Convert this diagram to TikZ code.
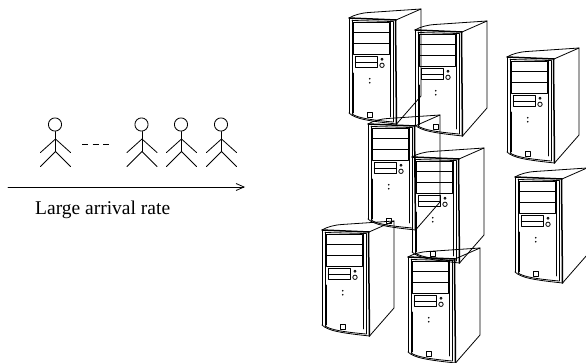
\documentclass[tikz,border=0pt]{standalone}
\usepackage{fontspec}
\setmainfont{Liberation Serif}
\usetikzlibrary{arrows.meta}

\tikzset{
  ln/.style={line width=0.8pt, line join=round, line cap=round},
  thk/.style={line width=1.5pt, line join=round, line cap=round},
  % a desktop tower, origin at the top-left corner of its front panel
  tower/.pic={
    % front panel outline
    \draw[ln] (0,0) -- (0,95);
    \draw[ln] (3,2) -- (3,96);
    \draw[thk] (0,0) -- (47,2);
    \draw[ln] (3,2.5) -- (44,3.5);
    \draw[thk] (46.5,2) -- (47.5,106);
    \draw[ln] (44,3.5) -- (44,104);
    \draw[ln] (0,95) .. controls (6,101) and (20,103) .. (47.5,106);
    \draw[ln] (3,96) .. controls (9,100) and (22,102) .. (44,104);
    % top and side faces
    \draw[ln] (0,0) .. controls (5,-3) and (12,-5) .. (20,-5.5) -- (72,-9);
    \draw[ln] (47,2) -- (72,-9) -- (72,78) -- (47.5,106);
    % drive bays
    \draw[ln] (4.5,4) rectangle (40,36);
    \draw[ln] (4.5,14.7) -- (40,14.7);
    \draw[ln] (4.5,25) -- (40,25);
    \draw[ln] (41.5,4) -- (41.5,99);
    % small bays, led and power button
    \draw[ln] (6.3,38) rectangle (28,49.7);
    \draw[ln] (6.3,44.5) -- (28,44.5);
    \draw[ln] (33,41.3) circle (1.1);
    \draw[ln] (33,47.3) circle (2.2);
    % front details
    \fill (20.7,60.7) circle (0.9);
    \fill (20.7,64.7) circle (0.9);
    \draw[ln] (4.7,55) -- (4.7,95);
    \draw[ln] (18,94) rectangle (23,99.5);
  },
  % a stick figure, origin at the top of its body line
  person/.pic={
    \draw[ln] (-0.5,-7) circle (6.6);
    \draw[ln] (0,0) -- (0,20);
    \draw[ln] (-15,21) -- (0,7.5) -- (15,21);
    \draw[ln] (-15,35) -- (0,20) -- (15,35);
  }
}

\begin{document}
\begin{tikzpicture}[x=1pt, y=-1pt]
  \useasboundingbox (0,0) rectangle (586,363);

  % queue of arriving customers
  \pic (p1) at (55.5,131.5) {person};
  \pic (p2) at (142,131.5) {person};
  \pic (p3) at (181.5,131.5) {person};
  \pic (p4) at (221.5,131.5) {person};
  \coordinate (dl) at (82,144);
  \coordinate (dr) at (109,144);
  \draw[ln, dash pattern=on 6pt off 4.5pt, line cap=butt] (dl) -- (dr);

  % arrival arrow and its label
  \coordinate (as) at (8,187);
  \coordinate (ae) at (245,187);
  \draw[ln, -{Straight Barb[length=8pt, width=7pt]}] (as) -- (ae);
  \node[anchor=base west, inner sep=0pt, font=\fontsize{19.5}{22}\selectfont] (lbl) at (35,215) {Large arrival rate};

  % server farm
  \pic (s1) at (349,18) {tower};
  \pic (s2) at (415,30) {tower};
  \pic (s3) at (507,57) {tower};
  \pic (s4) at (368,124) {tower};
  \pic (s5) at (412,157) {tower};
  \pic (s6) at (515,177) {tower};
  \pic (s7) at (322,230) {tower};
  \pic (s8) at (408,257) {tower};
\end{tikzpicture}
\end{document}
